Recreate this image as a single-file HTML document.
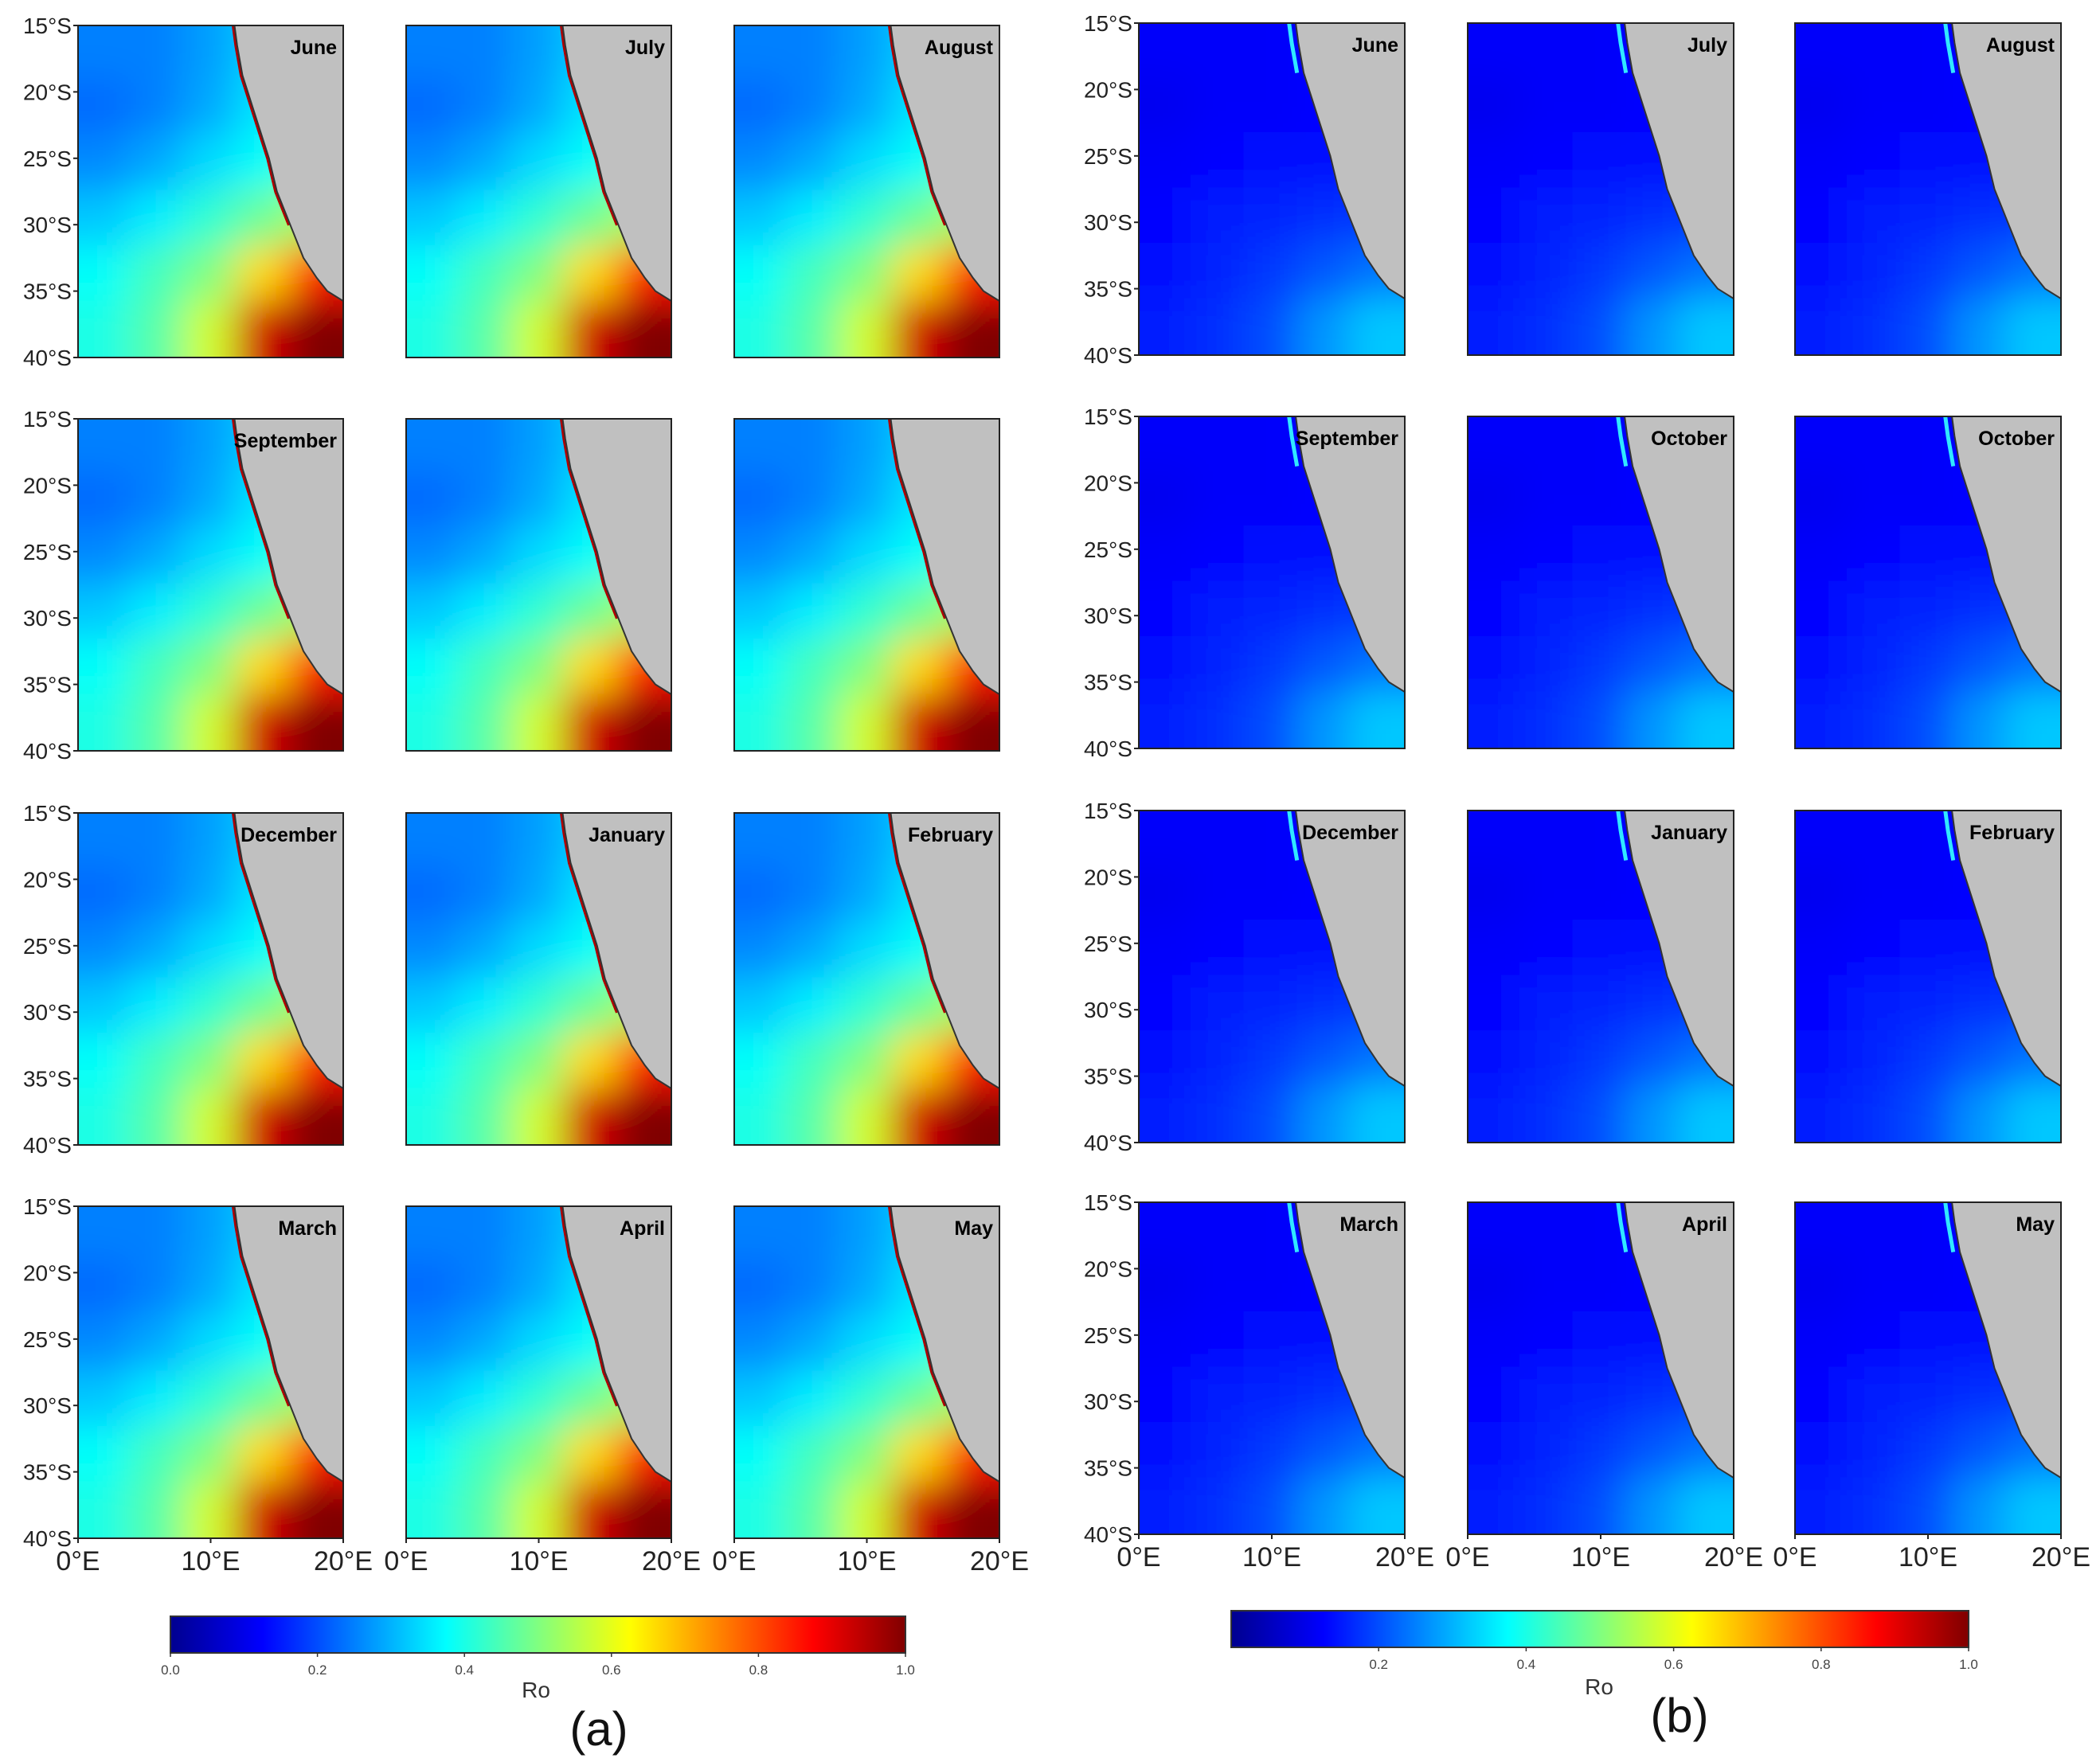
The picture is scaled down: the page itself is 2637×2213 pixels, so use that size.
<!DOCTYPE html>
<html><head><meta charset="utf-8">
<style>
html,body{margin:0;padding:0;background:#fff;}
svg{display:block;font-family:"Liberation Sans",sans-serif;}
</style></head>
<body>
<svg id="fig" width="2637" height="2213" viewBox="0 0 2637 2213" xmlns="http://www.w3.org/2000/svg">
<defs>
<filter id="blurL" filterUnits="userSpaceOnUse" x="0" y="0" width="2637" height="2213"><feGaussianBlur stdDeviation="24"/></filter>
<filter id="blurR" filterUnits="userSpaceOnUse" x="0" y="0" width="2637" height="2213"><feGaussianBlur stdDeviation="24"/></filter>
<linearGradient id="jet" x1="0" x2="1" y1="0" y2="0">
<stop offset="0" stop-color="#00008f"/><stop offset="0.125" stop-color="#0000ff"/>
<stop offset="0.375" stop-color="#00ffff"/><stop offset="0.5" stop-color="#80ff80"/>
<stop offset="0.625" stop-color="#ffff00"/><stop offset="0.875" stop-color="#ff0000"/>
<stop offset="1" stop-color="#800000"/></linearGradient>
</defs>
</svg>
<script>
// ---- data ----
const monthsA = ["June","July","August","September","","","December","January","February","March","April","May"];
const monthsB = ["June","July","August","September","October","October","December","January","February","March","April","May"];
const latTicks = ["15°S","20°S","25°S","30°S","35°S","40°S"];
const lonTicks = ["0°E","10°E","20°E"];
const cbTicksA = [0.0,0.2,0.4,0.6,0.8,1.0];
const cbTicksB = [0.2,0.4,0.6,0.8,1.0];
// coarse Ro fields (rows 15S->40S, cols 0E->20E)
const fieldA = [
 [0.25,0.25,0.28,0.33,0.40],
 [0.23,0.25,0.29,0.35,0.40],
 [0.26,0.29,0.34,0.38,0.45],
 [0.32,0.36,0.42,0.48,0.55],
 [0.38,0.44,0.50,0.66,0.85],
 [0.40,0.46,0.58,0.92,1.00]];
const fieldB = [
 [0.12,0.12,0.12,0.13,0.13],
 [0.11,0.12,0.12,0.13,0.13],
 [0.12,0.13,0.14,0.14,0.14],
 [0.13,0.15,0.16,0.17,0.18],
 [0.14,0.16,0.18,0.21,0.24],
 [0.15,0.17,0.20,0.27,0.32]];
const coast = [[0.59,0],[0.6,0.06],[0.62,0.15],[0.66,0.25],[0.72,0.4],[0.75,0.5],[0.8,0.6],[0.85,0.7],[0.9,0.76],[0.94,0.8],[1.0,0.83]];

// ---- layout ----
const NS="http://www.w3.org/2000/svg";
const svg=document.getElementById('fig');
function mk(tag,attrs,parent){const e=document.createElementNS(NS,tag);for(const k in attrs)e.setAttribute(k,attrs[k]);(parent||svg).appendChild(e);return e;}
function jet(v){const c=x=>Math.round(255*Math.max(0,Math.min(1,x)));return `rgb(${c(1.5-Math.abs(4*v-3))},${c(1.5-Math.abs(4*v-2))},${c(1.5-Math.abs(4*v-1))})`;}
const groups=[
 {cols:[98,510,922],rows:[32,526,1021,1515],w:333,h:417,field:fieldA,months:monthsA,id:'a',filt:'blurL',strip:true},
 {cols:[1430,1843,2254],rows:[29,523,1018,1510],w:334,h:417,field:fieldB,months:monthsB,id:'b',filt:'blurR',strip:false}];
let pid=0;
groups.forEach(G=>{
 G.rows.forEach((py,ri)=>{G.cols.forEach((px,ci)=>{
  const g=mk('g',{});
  
  
  const cid='clip'+(pid++);
  const cp=mk('clipPath',{id:cid},g);mk('rect',{x:px,y:py,width:G.w,height:G.h},cp);
  const inner=mk('g',{'clip-path':`url(#${cid})`},g);
  mk('rect',{x:px,y:py,width:G.w,height:G.h,fill:jet(G.field[0][0])},inner);
  const hb=mk('g',{filter:`url(#${G.filt})`},inner);
  const nr=G.field.length,nc=G.field[0].length,cw=G.w/nc,ch=G.h/nr,pad=70;
  G.field.forEach((row,r)=>row.forEach((v,c)=>{
   const x0=px+c*cw-(c===0?pad:2), x1=px+(c+1)*cw+(c===nc-1?pad:2);
   const y0=py+r*ch-(r===0?pad:2), y1=py+(r+1)*ch+(r===nr-1?pad:2);
   const cell=mk('rect',{x:x0,y:y0,width:x1-x0,height:y1-y0,fill:jet(v)},hb);
   
   
  }));
  const pts=coast.map(p=>`${px+p[0]*G.w},${py+p[1]*G.h}`);
  if(G.strip){mk('polyline',{points:pts.slice(0,7).join(' '),fill:'none',stroke:'#b00000','stroke-width':7},inner);}
  else{mk('polyline',{points:coast.slice(0,3).map(p=>`${px+(p[0]-0.025)*G.w},${py+p[1]*G.h}`).join(' '),fill:'none',stroke:'#30e8ff','stroke-width':5},inner);}
  const land=mk('polygon',{points:pts.join(' ')+` ${px+G.w},${py}`,fill:'#c0c0c0',stroke:'#333','stroke-width':2},inner);
  
  
  mk('rect',{x:px,y:py,width:G.w,height:G.h,fill:'none',stroke:'#222','stroke-width':2},g);
  const mt=mk('text',{x:px+G.w-8,y:py+36,'text-anchor':'end','font-size':25,'font-weight':'bold',fill:'#000'},g);
  mt.textContent=G.months[ri*3+ci];
  
  
  if(ci===0){latTicks.forEach((t,k)=>{const y=py+k*G.h/(latTicks.length-1);
   mk('line',{x1:px-6,x2:px,y1:y,y2:y,stroke:'#222','stroke-width':2},g);
   const tt=mk('text',{x:px-8,y:y+10,'text-anchor':'end','font-size':28,fill:'#222'},g);tt.textContent=t;
   
   });}
  if(ri===3){lonTicks.forEach((t,k)=>{const x=px+k*G.w/(lonTicks.length-1);
   mk('line',{x1:x,x2:x,y1:py+G.h,y2:py+G.h+6,stroke:'#222','stroke-width':2},g);
   const tt=mk('text',{x:x,y:py+G.h+40,'text-anchor':'middle','font-size':34,fill:'#222'},g);tt.textContent=t;
   
   });}
 });});
});
// colorbars
function colorbar(x,y,w,h,ticks,rx,ry,label,lx,ly,id){
 const g=mk('g',{});
 
 
 mk('rect',{x:x,y:y,width:w,height:h,fill:'url(#jet)',stroke:'#333','stroke-width':2},g);
 ticks.forEach(t=>{const tx=x+t*w;
  mk('line',{x1:tx,x2:tx,y1:y+h,y2:y+h+5,stroke:'#333','stroke-width':1.5},g);
  const tt=mk('text',{x:tx,y:y+h+27,'text-anchor':'middle','font-size':17,fill:'#444'},g);tt.textContent=t.toFixed(1);
  
  });
 const r=mk('text',{x:rx,y:ry,'text-anchor':'middle','font-size':28,fill:'#333'},g);r.textContent='Ro';
 
 
 const l=mk('text',{x:lx,y:ly,'text-anchor':'middle','font-size':60,fill:'#111'},g);l.textContent=label;
 
 
}
colorbar(214,2030,923,46,cbTicksA,673,2132,'(a)',752,2192,'a');
colorbar(1546,2023,926,46,cbTicksB,2008,2128,'(b)',2109,2175,'b');
</script>
</body></html>
